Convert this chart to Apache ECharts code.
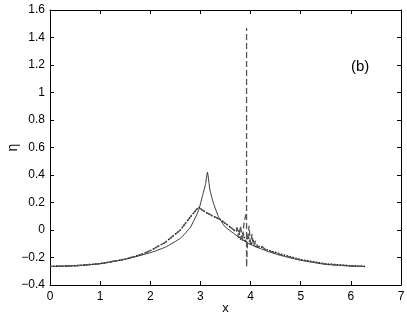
<!DOCTYPE html>
<html>
<head>
<meta charset="utf-8">
<script src="https://cdn.jsdelivr.net/npm/echarts@6/dist/echarts.min.js"></script>
<style>
  html, body { margin: 0; padding: 0; background: #fff; }
  #chart { width: 407px; height: 319px; }
</style>
</head>
<body>
<div id="chart"></div>
<script>
// solid curve (peak at x = pi)
var solidX = [0, 0.5, 1.0, 1.5, 2.0, 2.3, 2.6, 2.8, 2.96, 3.05, 3.1, 3.14, 3.19, 3.26, 3.36, 3.49, 3.66, 3.8, 4.0, 4.3, 4.6, 5.0, 5.5, 6.0, 6.28];
var solidY = [-0.265, -0.26, -0.245, -0.213, -0.165, -0.125, -0.06, 0.02, 0.14, 0.26, 0.33, 0.42, 0.29, 0.195, 0.097, 0.024, -0.024, -0.06, -0.105, -0.15, -0.185, -0.22, -0.25, -0.262, -0.265];

// dashed curve (spike near x = 3.92)
var dashX = [0, 0.5, 1.0, 1.5, 1.8, 2.0, 2.3, 2.6, 2.8, 2.96, 3.1, 3.4, 3.6, 3.7, 3.73, 3.76, 3.8, 3.84, 3.87, 3.92, 3.92, 3.92, 3.94, 3.97, 4.0, 4.03, 4.06, 4.1, 4.15, 4.2, 4.3, 4.6, 5.0, 5.5, 6.0, 6.28];
var dashY = [-0.265, -0.26, -0.245, -0.212, -0.18, -0.15, -0.09, 0.0, 0.095, 0.165, 0.13, 0.075, 0.02, -0.01, 0.02, -0.06, 0.03, -0.08, 0.06, 0.13, 1.47, -0.27, -0.08, 0.03, -0.1, -0.03, -0.12, -0.08, -0.13, -0.11, -0.145, -0.18, -0.218, -0.248, -0.261, -0.265];
var spikeTop = 20; // index of the spike's top in dashX / dashY

// dotted curve
var dotX = [0, 0.5, 1.0, 1.5, 1.8, 2.0, 2.3, 2.6, 2.8, 2.96, 3.1, 3.25, 3.4, 3.6, 3.7, 3.76, 3.8, 3.85, 3.9, 3.95, 4.0, 4.05, 4.1, 4.2, 4.3, 4.6, 5.0, 5.5, 6.0, 6.28];
var dotY = [-0.265, -0.26, -0.245, -0.212, -0.18, -0.15, -0.09, 0.0, 0.095, 0.165, 0.13, 0.1, 0.075, 0.02, -0.01, 0.0, -0.07, -0.02, -0.09, -0.04, -0.11, -0.07, -0.12, -0.12, -0.14, -0.175, -0.215, -0.246, -0.26, -0.265];

var dashPattern = [6, 3];

function pairs(xs, ys) {
    var res = [];
    for (var i = 0; i < xs.length; i++) {
        res.push([xs[i], ys[i]]);
    }
    return res;
}

function fmt(v) {
    var s = String(Math.round(v * 10) / 10);
    return s.replace('-', '\u2212');
}

var font = 'Liberation Sans, Arial, Helvetica, sans-serif';
var myChart = echarts.init(document.getElementById('chart'), null, {renderer: 'canvas'});

var baseAxis = {
    axisLine: {show: true, onZero: false, lineStyle: {color: '#000', width: 1}},
    axisTick: {show: true, inside: true, length: 4, lineStyle: {color: '#000'}},
    splitLine: {show: false}
};

var option = {
    animation: false,
    backgroundColor: '#fff',
    grid: {left: 50, right: 6, top: 10, bottom: 34, outerBoundsMode: 'none', containLabel: false},
    xAxis: [
        Object.assign({}, baseAxis, {
            type: 'value', min: 0, max: 7, interval: 1,
            name: 'x', nameLocation: 'middle', nameGap: 17, nameMoveOverlap: false,
            nameTextStyle: {color: '#000', fontSize: 13, fontFamily: font},
            axisLabel: {color: '#000', fontSize: 12, fontFamily: font, margin: 6, formatter: fmt}
        }),
        Object.assign({}, baseAxis, {
            type: 'value', min: 0, max: 7, interval: 1, position: 'top',
            axisLabel: {show: false}
        })
    ],
    yAxis: [
        Object.assign({}, baseAxis, {
            type: 'value', min: -0.4, max: 1.6, interval: 0.2,
            name: '\u03b7', nameLocation: 'middle', nameGap: 30, nameRotate: 90, nameMoveOverlap: false,
            nameTextStyle: {color: '#000', fontSize: 14, fontFamily: font},
            axisLabel: {color: '#000', fontSize: 12, fontFamily: font, margin: 5, formatter: fmt}
        }),
        Object.assign({}, baseAxis, {
            type: 'value', min: -0.4, max: 1.6, interval: 0.2, position: 'right',
            axisLabel: {show: false}
        })
    ],
    graphic: [{
        type: 'text', left: 351, top: 59,
        style: {text: '(b)', fill: '#000', font: '15px ' + font}
    }],
    series: [
        {
            name: 'solid', type: 'line', showSymbol: false,
            data: pairs(solidX, solidY), smooth: 0.15,
            lineStyle: {color: '#222', width: 0.9, type: 'solid'}
        },
        {
            name: 'dotted', type: 'line', showSymbol: false,
            data: pairs(dotX, dotY),
            lineStyle: {color: '#111', width: 1.4, type: [1.5, 1.5]}
        },
        {
            name: 'dashed', type: 'line', showSymbol: false,
            data: pairs(dashX, dashY),
            lineStyle: {color: '#555', width: 1.3, type: dashPattern}
        }
    ]
};

myChart.setOption(option);

// line the dashes of the spike's up and down strokes up with each other:
// put the middle of a dash at the top of the spike
var len = 0;
var prev = myChart.convertToPixel({gridIndex: 0}, [dashX[0], dashY[0]]);
for (var i = 1; i <= spikeTop; i++) {
    var p = myChart.convertToPixel({gridIndex: 0}, [dashX[i], dashY[i]]);
    len += Math.sqrt((p[0] - prev[0]) * (p[0] - prev[0]) + (p[1] - prev[1]) * (p[1] - prev[1]));
    prev = p;
}
var period = dashPattern[0] + dashPattern[1];
var offset = (((dashPattern[0] / 2 - len) % period) + period) % period;
myChart.setOption({series: [{}, {}, {lineStyle: {dashOffset: offset}}]});
</script>
</body>
</html>
